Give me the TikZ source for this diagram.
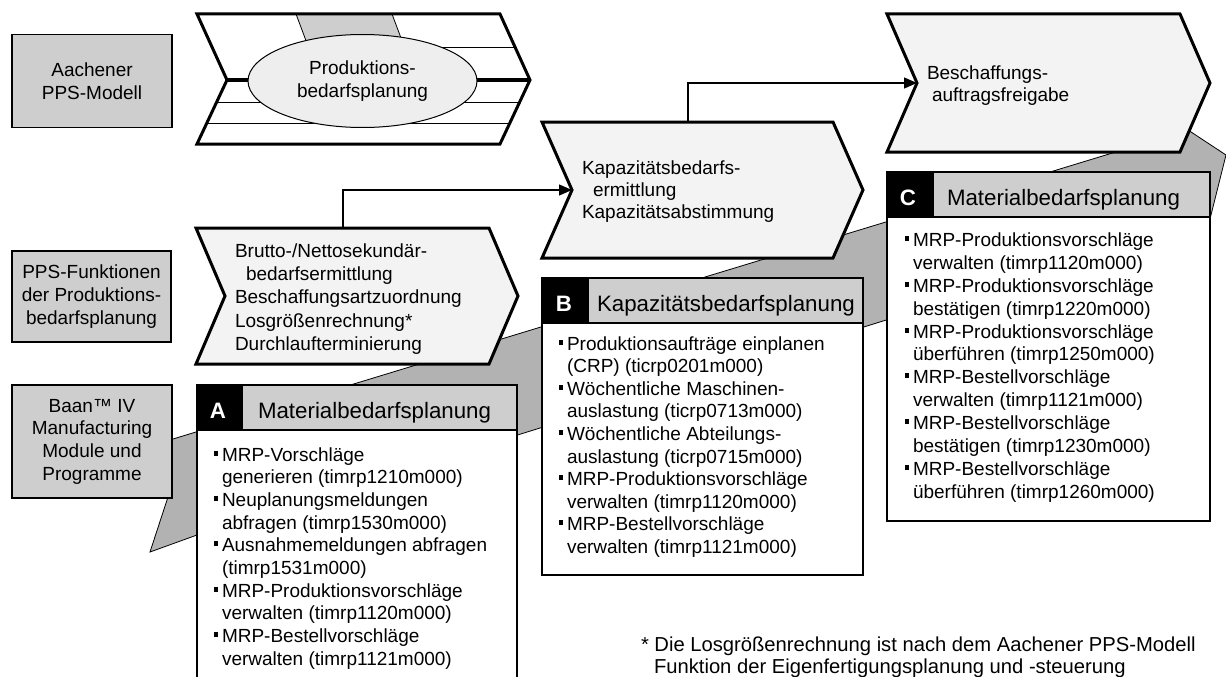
\documentclass[tikz,border=0pt]{standalone}
\usepackage{fontspec}
\setmainfont{Liberation Sans}
\usetikzlibrary{shapes.geometric,arrows.meta}

\definecolor{boxgrey}{RGB}{206,206,206}
\definecolor{bandgrey}{RGB}{178,178,178}
\definecolor{chevfill}{RGB}{243,243,243}
\definecolor{ellfill}{RGB}{238,238,238}

% one bulleted column: prefix, text x, first baseline, line step, lines (b = bullet line, c = continuation)
\newcommand\bulletlines[5]{%
  \foreach \k/\t [count=\i from 0] in {#5} {%
    \pgfmathsetmacro\yy{#3+#4*\i}%
    \node[body] (#1\i) at (#2,\yy) {\t};%
    \if\k b\node[bul] (#1b\i) at (#2-6,\yy-8) {};\fi
  }%
}

\begin{document}
\begin{tikzpicture}[x=1pt,y=-1pt,
  every node/.style={inner sep=0pt,outer sep=0pt},
  body/.style={font=\fontsize{19}{22.7}\selectfont,anchor=base west},
  note/.style={font=\fontsize{20.2}{22.7}\selectfont,anchor=base west},
  hdr/.style={font=\fontsize{22.3}{26}\selectfont,anchor=base west},
  letter/.style={font=\fontsize{22.3}{26}\selectfont\bfseries,text=white,anchor=base},
  sidebox/.style={draw,line width=1.2pt,fill=boxgrey,align=center,font=\fontsize{19}{22.7}\selectfont},
  chev/.style={draw,line width=3pt,fill=chevfill,line join=miter},
  lane/.style={line width=1pt},
  panel/.style={draw,line width=1.2pt,fill=white},
  hdrbox/.style={draw,line width=1.2pt,fill=boxgrey},
  flow/.style={line width=1.3pt,-{Triangle[length=13pt,width=11pt]}},
  band/.style={draw,line width=0.8pt,fill=bandgrey,line join=miter},
  bul/.style={fill=black,minimum width=4.5pt,minimum height=5pt}
]
\useasboundingbox (0,0) rectangle (1226,677);
\clip (0,0) rectangle (1226,677);

% grey band running behind the panels
\draw[band] (150,552) -- (168,497) -- (150,490) -- (150,446) -- (1188,130)
  -- (1226,155) -- (1210,219) -- (197,535) -- cycle;

% row labels
\node[sidebox,minimum width=160,minimum height=93] (aachen) at (92,81) {Aachener\\PPS-Modell};
\node[sidebox,minimum width=159,minimum height=91] (ppsfkt) at (91.5,296.5) {PPS-Funktionen\\der Produktions-\\bedarfsplanung};
\node[sidebox,minimum width=160,minimum height=113] (baan) at (92,441.5) {Baan™ IV\\Manufacturing\\Module und\\Programme};

% Aachen model: chevron with task lanes
\begin{scope}
  \clip (197,14) -- (500,14) -- (530,80) -- (500,144) -- (197,144) -- (227,80) -- cycle;
  \fill[white] (190,10) rectangle (540,150);
  \draw[line width=0.8pt,fill=boxgrey] (296,14) -- (392,14) -- (410,62) -- (314,62) -- cycle;
  \draw[lane] (420,48) -- (540,48);
  \draw[lane] (190,102) -- (540,102);
  \draw[lane] (190,123) -- (540,123);
  \draw[line width=3pt] (227,80) -- (530,80);
\end{scope}
\draw[chev,fill=none] (197,14) -- (500,14) -- (530,80) -- (500,144) -- (197,144) -- (227,80) -- cycle;
\node[ellipse,draw,line width=1pt,fill=ellfill,minimum width=229,minimum height=93,
  align=center,font=\fontsize{19}{22.7}\selectfont] (pbp) at (362.5,81) {Produktions-\\bedarfsplanung};

% process chevrons
\draw[chev] (196,228) -- (489,228) -- (518,296) -- (489,364) -- (196,364) -- (225,296) -- cycle;
\draw[chev] (542,122) -- (833,122) -- (863,190) -- (833,258) -- (542,258) -- (572,190) -- cycle;
\draw[chev] (887,14) -- (1180,14) -- (1210,83) -- (1180,152) -- (887,152) -- (917,83) -- cycle;

\node[body] (br1) at (235,257) {Brutto-/Nettosekundär-};
\node[body] (br2) at (246,280) {bedarfsermittlung};
\node[body] (br3) at (235,303) {Beschaffungsartzuordnung};
\node[body] (br4) at (235,327) {Losgrößenrechnung*};
\node[body] (br5) at (235,350) {Durchlaufterminierung};

\node[body] (ka1) at (582,174.5) {Kapazitätsbedarfs-};
\node[body] (ka2) at (593,196.5) {ermittlung};
\node[body] (ka3) at (582,218.5) {Kapazitätsabstimmung};

\node[body] (be1) at (927,79.5) {Beschaffungs-};
\node[body] (be2) at (932,101.5) {auftragsfreigabe};

% connectors between the chevrons
\coordinate (brtop) at (343,228);
\coordinate (kapin) at (572,190);
\coordinate (kaptop) at (688,122);
\coordinate (besin) at (917,83);
\draw[flow] (brtop) |- (kapin);
\draw[flow] (kaptop) |- (besin);

% panel A
\draw[panel] (197,430) rectangle (517,690);
\draw[hdrbox] (197,385) rectangle (517,430);
\fill (197,385) rectangle (243,430);
\draw[line width=1.2pt] (197,385) rectangle (517,430);
\node[letter] (la) at (218,418.5) {A};
\node[hdr] (ha) at (258,418.5) {Materialbedarfsplanung};
\bulletlines{a}{222}{461}{22.67}{b/{MRP-Vorschläge},c/{generieren (timrp1210m000)},b/{Neuplanungsmeldungen},c/{abfragen (timrp1530m000)},b/{Ausnahmemeldungen abfragen},c/{(timrp1531m000)},b/{MRP-Produktionsvorschläge},c/{verwalten (timrp1120m000)},b/{MRP-Bestellvorschläge},c/{verwalten (timrp1121m000)}}

% panel B
\draw[panel] (542,323) rectangle (863,575);
\draw[hdrbox] (542,278) rectangle (863,323);
\fill (542,278) rectangle (589,323);
\draw[line width=1.2pt] (542,278) rectangle (863,323);
\node[letter] (lb) at (564,311.5) {B};
\node[hdr] (hb) at (597,311.5) {Kapazitätsbedarfsplanung};
\bulletlines{b}{567}{350}{22.6}{b/{Produktionsaufträge einplanen},c/{(CRP) (ticrp0201m000)},b/{Wöchentliche Maschinen-},c/{auslastung (ticrp0713m000)},b/{Wöchentliche Abteilungs-},c/{auslastung (ticrp0715m000)},b/{MRP-Produktionsvorschläge},c/{verwalten (timrp1120m000)},b/{MRP-Bestellvorschläge},c/{verwalten (timrp1121m000)}}

% panel C
\draw[panel] (887,217) rectangle (1210,521);
\draw[hdrbox] (887,172) rectangle (1210,217);
\fill (887,172) rectangle (934,217);
\draw[line width=1.2pt] (887,172) rectangle (1210,217);
\node[letter] (lc) at (908,205.5) {C};
\node[hdr] (hc) at (947,205.5) {Materialbedarfsplanung};
\bulletlines{c}{913}{246.7}{22.85}{b/{MRP-Produktionsvorschläge},c/{verwalten (timrp1120m000)},b/{MRP-Produktionsvorschläge},c/{bestätigen (timrp1220m000)},b/{MRP-Produktionsvorschläge},c/{überführen (timrp1250m000)},b/{MRP-Bestellvorschläge},c/{verwalten (timrp1121m000)},b/{MRP-Bestellvorschläge},c/{bestätigen (timrp1230m000)},b/{MRP-Bestellvorschläge},c/{überführen (timrp1260m000)}}

% footnote
\node[note] (fn1) at (641,651) {* Die Losgrößenrechnung ist nach dem Aachener PPS-Modell};
\node[note] (fn2) at (654,673) {Funktion der Eigenfertigungsplanung und -steuerung};
\end{tikzpicture}
\end{document}
